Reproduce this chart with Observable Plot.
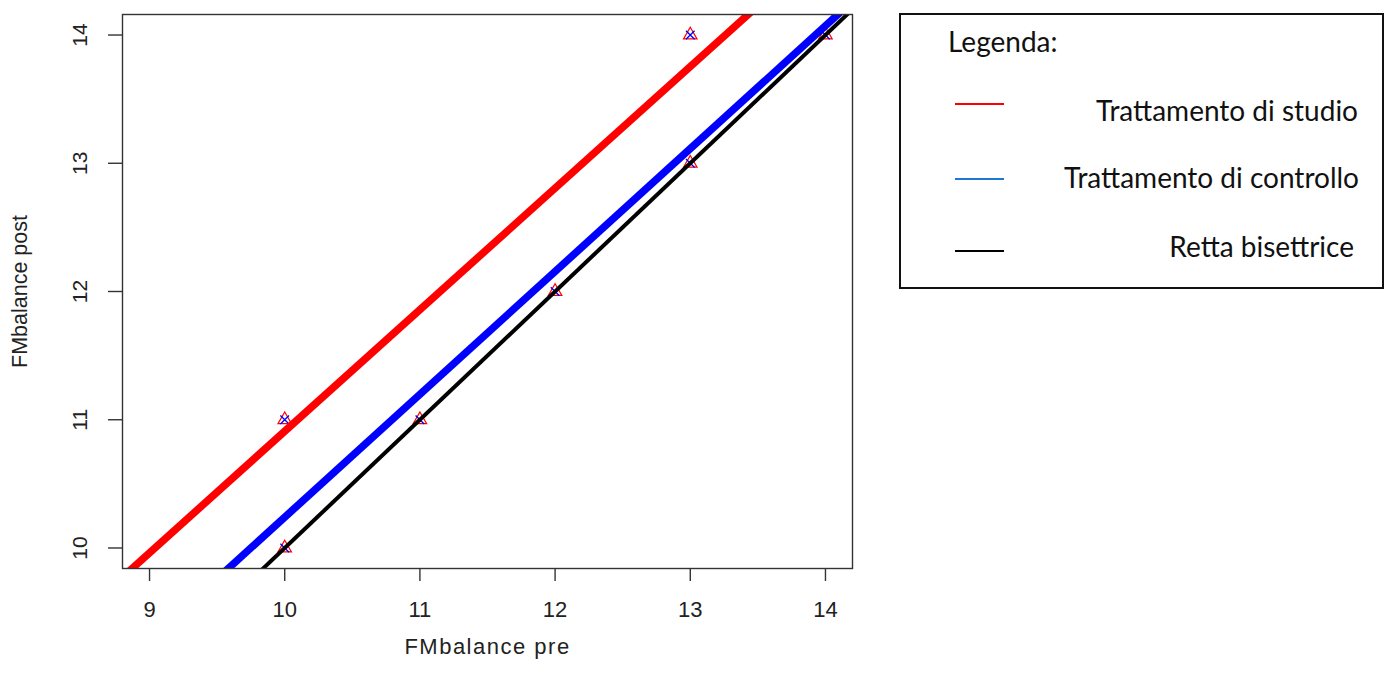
<!DOCTYPE html>
<html>
<head>
<meta charset="utf-8">
<script src="https://cdn.jsdelivr.net/npm/d3@7"></script>
<script src="https://cdn.jsdelivr.net/npm/@observablehq/plot@0.6"></script>
<style>
  html, body { margin: 0; padding: 0; background: #fff; }
  #wrap { position: relative; width: 1385px; height: 675px; overflow: hidden; }
  #chart { position: absolute; left: 0; top: 0; }
  #legend { position: absolute; left: 899px; top: 13px; width: 485px; height: 276px;
    border: 2px solid #111; box-sizing: border-box; font-family: Lato, "Open Sans", sans-serif; color: #111; }
  #legend .title { position: absolute; left: 47px; top: 12px; font-size: 28px; line-height: 1; white-space: nowrap; }
  #legend .item { position: absolute; font-size: 28px; line-height: 1; white-space: nowrap; }
  #legend .sw { position: absolute; left: 54px; width: 49px; height: 2px; }
</style>
</head>
<body>
<div id="wrap">
  <div id="chart"></div>
  <div id="legend"></div>
</div>
<script>
// Observed points (pre, post)
const prePoints  = [10, 10, 11, 12, 13, 13, 14];
const postPoints = [10, 11, 11, 12, 13, 14, 14];

// Fitted lines: intercept / slope
const lineNames      = ["Trattamento di studio", "Trattamento di controllo", "Retta bisettrice"];
const lineIntercepts = [1.43, 0.66, 0];
const lineSlopes     = [0.948, 0.958, 1];
const lineColors     = ["#ff0000", "#0000ff", "#000000"];
const lineWidths     = [7.5, 7.5, 4];
const legendColors   = ["#ff0000", "#1f77d4", "#000000"];

const xTicks = [9, 10, 11, 12, 13, 14];
const yTicks = [10, 11, 12, 13, 14];
const xLabel = "FMbalance pre";
const yLabel = "FMbalance post";
const legendTitle = "Legenda:";

const xDomain = [8.8, 14.2];
const yDomain = [9.84, 14.16];

const points = prePoints.map((x, i) => ({x, y: postPoints[i]}));
const lines = lineNames.map((name, i) => ({
  name, a: lineIntercepts[i], b: lineSlopes[i], color: lineColors[i], w: lineWidths[i]
}));

const lineMarks = lines.map(l => Plot.line(
  xDomain.map(x => ({x, y: l.a + l.b * x})),
  {x: "x", y: "y", stroke: l.color, strokeWidth: l.w, clip: true, strokeLinecap: "butt"}
));

const textColor = "#222";
const chart = Plot.plot({
  width: 880,
  height: 675,
  marginLeft: 122,
  marginRight: 28,
  marginTop: 14,
  marginBottom: 107,
  style: {fontFamily: "'Liberation Sans', Arial, sans-serif", color: textColor, background: "transparent"},
  x: {domain: xDomain},
  y: {domain: yDomain},
  marks: [
    Plot.dot(points, {x: "x", y: "y", symbol: "triangle", stroke: "#ff0000", fill: "none", r: 5, strokeWidth: 1.2}),
    Plot.dot(points, {x: "x", y: "y", symbol: "times", stroke: "#0000ff", r: 4, strokeWidth: 1.3}),
    ...lineMarks,
    Plot.frame({stroke: "#333", strokeWidth: 1.4}),
    Plot.axisX({ticks: xTicks, tickSize: 13, tickPadding: 20, fontSize: 22, stroke: "#333", strokeWidth: 1.4, label: null, tickFormat: d => String(d)}),
    Plot.axisY({ticks: yTicks, tickSize: 14, tickFormat: () => "", stroke: "#333", strokeWidth: 1.4, label: null}),
    Plot.text(yTicks, {y: d => d, frameAnchor: "left", dx: -42, text: d => String(d), rotate: -90, fontSize: 21, textAnchor: "middle", lineAnchor: "middle", fill: textColor}),
    Plot.text([xLabel], {frameAnchor: "bottom", dy: 85, text: d => d, fontSize: 22, textAnchor: "middle", lineAnchor: "bottom", fill: textColor}),
    Plot.text([yLabel], {frameAnchor: "left", dx: -102, text: d => d, rotate: -90, fontSize: 21.5, textAnchor: "middle", lineAnchor: "middle", fill: textColor})
  ]
});
chart.querySelectorAll("text").forEach(el => {
  if (el.textContent === xLabel) el.setAttribute("letter-spacing", "1.5");
});
document.getElementById("chart").appendChild(chart);

// Legend
const legend = document.getElementById("legend");
const t = document.createElement("div");
t.className = "title"; t.textContent = legendTitle;
legend.appendChild(t);
const itemTops = [81, 148, 217];
const itemRights = [24, 23, 28];
const swTops = [88, 163, 235];
lines.forEach((l, i) => {
  const sw = document.createElement("div");
  sw.className = "sw"; sw.style.top = swTops[i] + "px"; sw.style.background = legendColors[i];
  legend.appendChild(sw);
  const it = document.createElement("div");
  it.className = "item"; it.style.top = itemTops[i] + "px"; it.style.right = itemRights[i] + "px";
  it.textContent = l.name;
  legend.appendChild(it);
});
</script>
</body>
</html>
